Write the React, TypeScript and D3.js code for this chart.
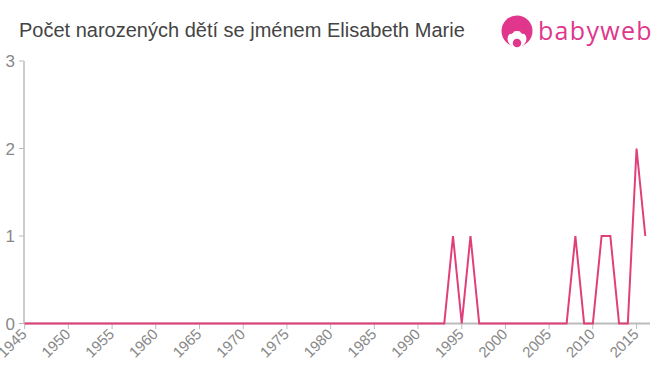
import React from "react";
import * as d3 from "d3";

const years: number[] = [];
for (let y = 1945; y <= 2016; y++) years.push(y);
const nonZero: Record<number, number> = { 1994: 1, 1996: 1, 2008: 1, 2011: 1, 2012: 1, 2015: 2, 2016: 1 };
const counts: number[] = years.map((y) => nonZero[y] ?? 0);
const xTicks = [1945, 1950, 1955, 1960, 1965, 1970, 1975, 1980, 1985, 1990, 1995, 2000, 2005, 2010, 2015];
const yTicks = [0, 1, 2, 3];
const title = "Počet narozených dětí se jménem Elisabeth Marie";

export default function App() {
  const W = 660, H = 375;
  const x = d3.scaleLinear().domain([1945, 2016]).range([24.7, 645.3]);
  const y = d3.scaleLinear().domain([0, 3]).range([323.5, 61]);
  const line = d3.line<number>().x((_, i) => x(years[i])).y((d) => y(d));
  const grey = "#bbb";
  const labelColor = "#888";
  const pink = "#e0407a";
  const logo = "#e0368c";
  return (
    <svg width={W} height={H} style={{ position: "absolute", left: 0, top: 0, fontFamily: "Liberation Sans, Arial, sans-serif" }}>
      <rect width={W} height={H} fill="#fff" />
      <text x={19} y={37} fontSize={20} fill="#444">{title}</text>
      <g>
        <circle cx={517} cy={31} r={15.5} fill={logo} />
        <ellipse cx={517} cy={39} rx={9.5} ry={8} fill="#fff" />
        <circle cx={510} cy={30} r={4} fill={logo} />
        <circle cx={524} cy={30} r={4} fill={logo} />
        <circle cx={517} cy={43} r={5} fill={logo} stroke="#fff" strokeWidth={1.5} />
        <text x={538} y={39.5} fontSize={25} fill={logo} fontFamily="Open Sans, sans-serif" letterSpacing={1.3}>babyweb</text>
      </g>
      <line x1={24} x2={24} y1={61} y2={324} stroke={grey} strokeWidth={1.5} />
      {yTicks.map((t) => (
        <g key={t}>
          <line x1={19} x2={24} y1={y(t)} y2={y(t)} stroke={grey} strokeWidth={1} />
          <text x={15} y={y(t) + 6} fontSize={17} fill={labelColor} textAnchor="end">{t}</text>
        </g>
      ))}
      <line x1={24} x2={650} y1={323.5} y2={323.5} stroke={grey} strokeWidth={2} />
      {xTicks.map((t) => (
        <g key={t}>
          <line x1={x(t)} x2={x(t)} y1={323.5} y2={329} stroke={grey} strokeWidth={1} />
          <text transform={`translate(${x(t) + 3},335) rotate(-45)`} fontSize={15} fill={labelColor} textAnchor="end">{t}</text>
        </g>
      ))}
      <path d={line(counts) ?? ""} fill="none" stroke={pink} strokeWidth={2} strokeLinejoin="miter" />
    </svg>
  );
}
